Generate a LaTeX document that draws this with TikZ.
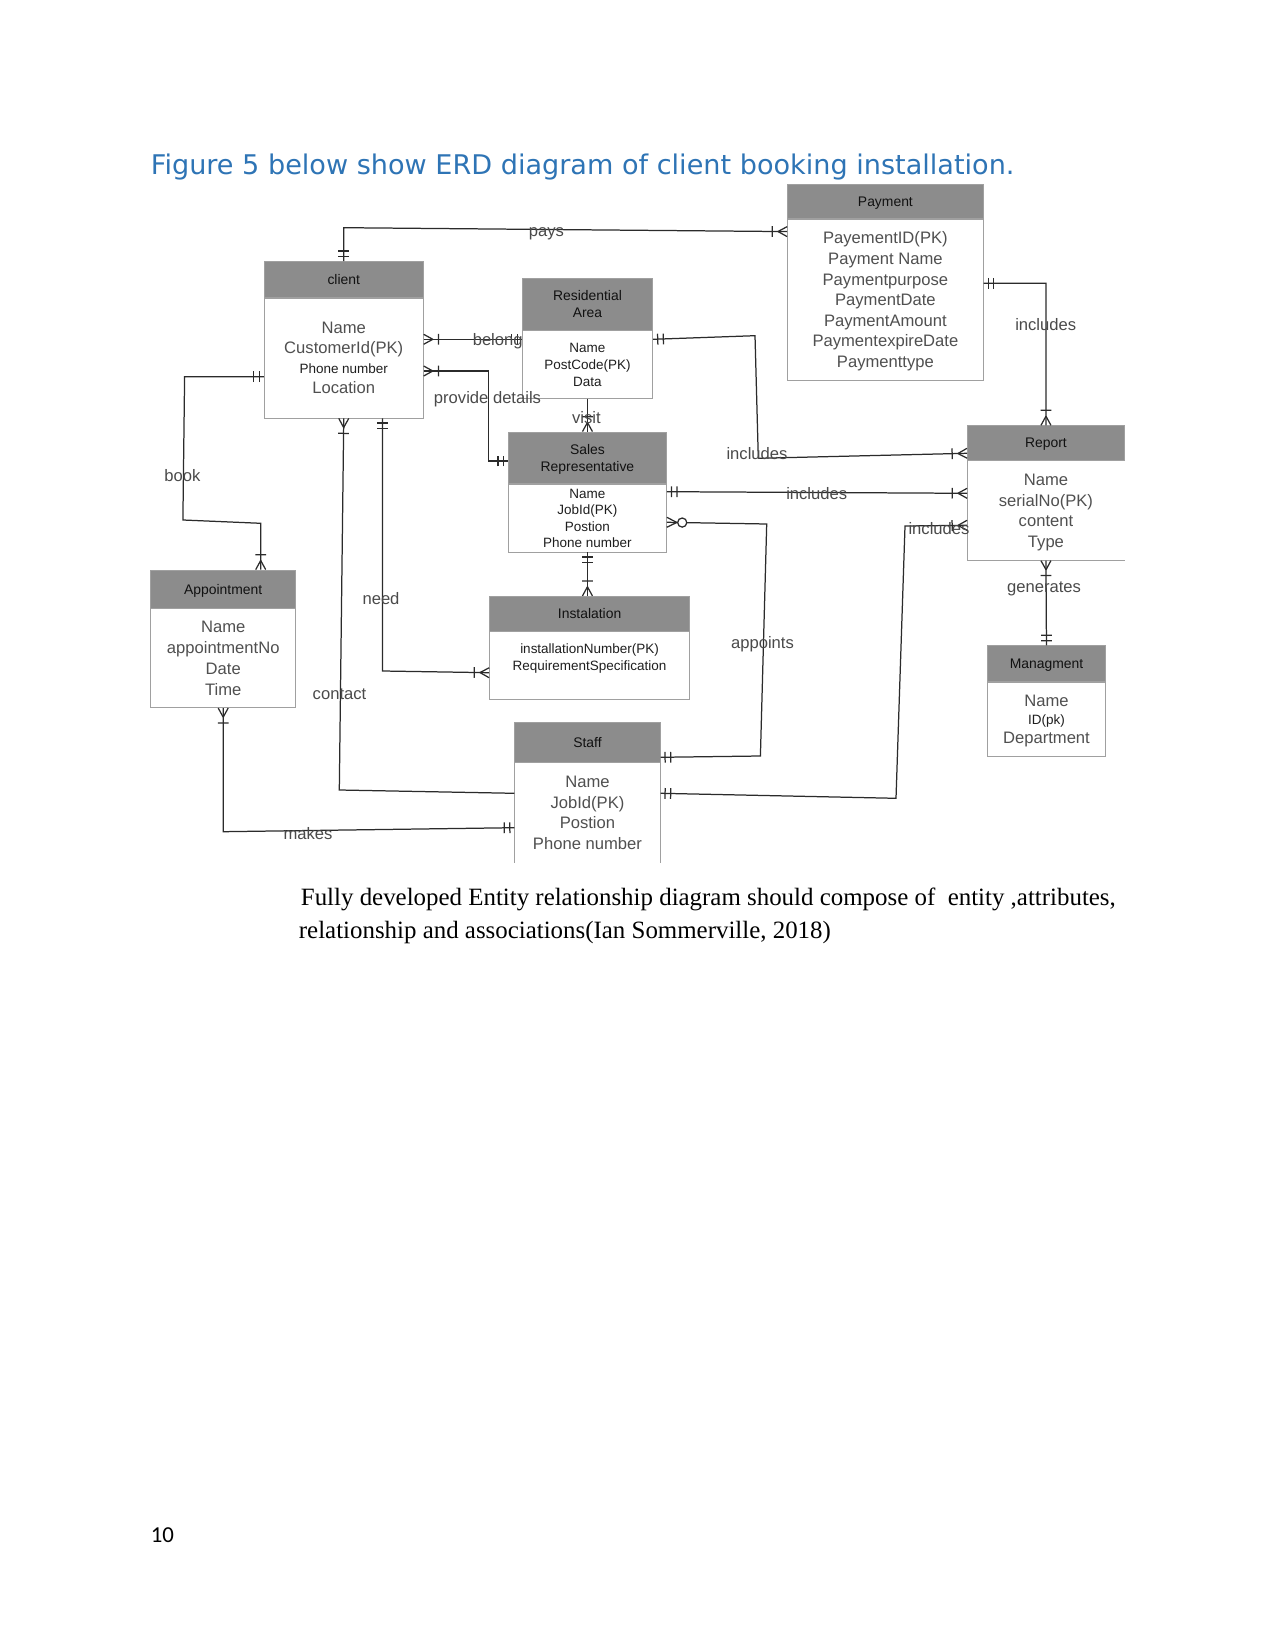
\documentclass[tikz,border=0pt]{standalone}
\usepackage{fontspec}
\setmainfont{Liberation Serif}
\newfontfamily\diagfont{Liberation Sans}
\newfontfamily\headfont{DejaVu Sans}
\newfontfamily\pagefont{Carlito}
\usetikzlibrary{positioning}

\definecolor{titleblue}{HTML}{2E74B5}
\definecolor{headgray}{HTML}{8C8C8C}
\definecolor{boxline}{HTML}{A0A0A0}
\definecolor{headtext}{HTML}{111111}
\definecolor{attgray}{HTML}{505050}
\definecolor{smallgray}{HTML}{1F1F1F}
\definecolor{linecol}{HTML}{2B2B2B}
\definecolor{lblgray}{HTML}{4A4A4A}

\newcommand\smalltxt[1]{{\fontsize{6.5}{8}\selectfont\color{smallgray}#1}}

% crow's foot ends
\pgfdeclarearrow{
  name = ErOne,
  setup code = {
    \pgfarrowssettipend{0pt}
    \pgfarrowssetlineend{0pt}
    \pgfarrowssetbackend{-5.5pt}
  },
  drawing code = {
    \pgfpathmoveto{\pgfqpoint{-2.2pt}{-2.6pt}}
    \pgfpathlineto{\pgfqpoint{-2.2pt}{2.6pt}}
    \pgfpathmoveto{\pgfqpoint{-4.9pt}{-2.6pt}}
    \pgfpathlineto{\pgfqpoint{-4.9pt}{2.6pt}}
    \pgfusepathqstroke
  }
}
\pgfdeclarearrow{
  name = ErMany,
  setup code = {
    \pgfarrowssettipend{0pt}
    \pgfarrowssetlineend{0pt}
    \pgfarrowssetbackend{-8pt}
  },
  drawing code = {
    \pgfpathmoveto{\pgfqpoint{-4.4pt}{0pt}}
    \pgfpathlineto{\pgfqpoint{0pt}{2.4pt}}
    \pgfpathmoveto{\pgfqpoint{-4.4pt}{0pt}}
    \pgfpathlineto{\pgfqpoint{0pt}{-2.4pt}}
    \pgfpathmoveto{\pgfqpoint{-7.2pt}{-2.6pt}}
    \pgfpathlineto{\pgfqpoint{-7.2pt}{2.6pt}}
    \pgfusepathqstroke
  }
}
\pgfdeclarearrow{
  name = ErZero,
  setup code = {
    \pgfarrowssettipend{0pt}
    \pgfarrowssetlineend{0pt}
    \pgfarrowssetbackend{-10pt}
  },
  drawing code = {
    \pgfpathmoveto{\pgfqpoint{-4.8pt}{0pt}}
    \pgfpathlineto{\pgfqpoint{0pt}{2.4pt}}
    \pgfpathmoveto{\pgfqpoint{-4.8pt}{0pt}}
    \pgfpathlineto{\pgfqpoint{0pt}{-2.4pt}}
    \pgfusepathqstroke
    \pgfpathcircle{\pgfqpoint{-7.4pt}{0pt}}{2.2pt}
    \pgfsetfillcolor{white}
    \pgfusepathqfillstroke
  }
}

\begin{document}
\begin{tikzpicture}[x=0.4818pt, y=-0.4818pt,
  ehead/.style={draw=boxline, fill=headgray, anchor=north, align=center, inner sep=0pt, text depth=0pt, text=headtext, font=\diagfont\fontsize{6.7}{8.1}\selectfont},
  ebody/.style={draw=boxline, fill=white, align=center, inner sep=0pt, text depth=0pt, text=attgray, font=\diagfont\fontsize{8}{9.9}\selectfont},
  esmall/.style={ebody, text=smallgray, font=\diagfont\fontsize{6.5}{8.1}\selectfont},
  eline/.style={draw=boxline, line width=0.4pt},
  rel/.style={draw=linecol, line width=0.6pt},
  lbl/.style={inner sep=0pt, text=lblgray, font=\diagfont\fontsize{8}{9}\selectfont}]
\useasboundingbox (0,0) rectangle (1275,1651);

\node[anchor=base west, inner sep=0pt, text=titleblue, font=\headfont\fontsize{13.05}{15}\selectfont] (title) at (150.5,174.5) {Figure 5 below show ERD diagram of client booking installation.};

% entities
\node[ehead, minimum width=94.3pt, minimum height=16.2pt] (payment) at (885.4,184.2) {Payment};
\node[ebody, minimum width=94.3pt, minimum height=77.6pt, below=0pt of payment] (payment-a) {PayementID(PK)\\Payment Name\\Paymentpurpose\\PaymentDate\\PaymentAmount\\PaymentexpireDate\\Paymenttype};

\node[ehead, minimum width=76.6pt, minimum height=17.2pt] (client) at (343.75,261.1) {client};
\node[ebody, minimum width=76.6pt, minimum height=57.8pt, below=0pt of client, font=\diagfont\fontsize{8}{9.6}\selectfont] (client-a) {Name\\CustomerId(PK)\\\smalltxt{Phone number}\\Location};

\node[ehead, minimum width=62.9pt, minimum height=24.9pt] (resid) at (587.45,277.9) {Residential\\Area};
\node[esmall, minimum width=62.9pt, minimum height=32.5pt, below=0pt of resid] (resid-a) {Name\\PostCode(PK)\\Data};

\node[ehead, minimum width=76.1pt, minimum height=24.9pt] (sales) at (587.45,431.6) {Sales\\Representative};
\node[esmall, minimum width=76.1pt, minimum height=32.5pt, below=0pt of sales, font=\diagfont\fontsize{6.5}{7.9}\selectfont] (sales-a) {Name\\JobId(PK)\\Postion\\Phone number};

\node[ehead, minimum width=75.6pt, minimum height=16.8pt] (report) at (1045.95,425.3) {Report};
\node[ebody, draw=none, minimum width=75.6pt, minimum height=47.6pt, below=0pt of report, font=\diagfont\fontsize{8}{10}\selectfont] (report-a) {Name\\serialNo(PK)\\content\\Type};
\draw[eline] (report-a.north west) -- (report-a.south west) -- (report-a.south east);

\node[ehead, minimum width=70pt, minimum height=18.3pt] (appoint) at (223.2,569.6) {Appointment};
\node[ebody, minimum width=70pt, minimum height=47.6pt, below=0pt of appoint, font=\diagfont\fontsize{8}{10}\selectfont] (appoint-a) {Name\\appointmentNo\\Date\\Time};

\node[ehead, minimum width=96.4pt, minimum height=16.7pt] (install) at (589.6,595.9) {Instalation};
\node[esmall, minimum width=96.4pt, minimum height=32.5pt, below=0pt of install] (install-a) {installationNumber(PK)\\RequirementSpecification\\~};

\node[ehead, minimum width=56.8pt, minimum height=17.2pt] (manage) at (1046.45,645.4) {Managment};
\node[ebody, minimum width=56.8pt, minimum height=35.5pt, below=0pt of manage, font=\diagfont\fontsize{8}{9.1}\selectfont] (manage-a) {Name\\\smalltxt{ID(pk)}\\Department};

\node[ehead, minimum width=70pt, minimum height=19.3pt, text depth=-1pt] (staff) at (587.45,722.2) {Staff};
\node[ebody, draw=none, minimum width=70pt, minimum height=47.7pt, below=0pt of staff] (staff-a) {Name\\JobId(PK)\\Postion\\Phone number};
\draw[eline] (staff-a.north west) -- (staff-a.south west) (staff-a.north east) -- (staff-a.south east);

% relationships
\draw[rel, {ErOne}-{ErMany}] (client.north) -- (343.75,227.7) -- (payment-a.west |- 0,231.6);
\draw[rel, {ErMany}-{ErOne}] (client-a.east |- 0,339.3) -- (resid-a.west |- 0,339.3);
\draw[rel, {ErMany}-{ErOne}] (client-a.east |- 0,371) -- (488.2,371) -- (488.2,461) -- (sales.west |- 0,461);
\draw[rel, -{ErMany}] (resid-a.south) -- (sales.north);
\draw[rel, {ErOne}-{ErMany}] (client-a.west |- 0,376.7) -- (184.6,376.7) -- (182.9,520) -- (260.7,523.3) -- (appoint.north -| 260.7,0);
\draw[rel, {ErMany}-] (client-a.south) -- (339.3,790) -- (staff-a.west |- 0,793.3);
\draw[rel, {ErOne}-{ErMany}] (client-a.south -| 382.5,0) -- (382.5,671) -- (install-a.west |- 0,672.7);
\draw[rel, {ErOne}-{ErMany}] (sales-a.south) -- (sales-a.south |- install.north);
\draw[rel, {ErOne}-{ErMany}] (resid-a.east |- 0,339.3) -- (755,335.7) -- (758.3,458.3) -- (report.west |- 0,453.3);
\draw[rel, {ErOne}-{ErMany}] (sales-a.east |- 0,491.7) -- (report-a.west |- 0,493.3);
\draw[rel, {ErZero}-{ErOne}] (sales-a.east |- 0,522.3) -- (766.7,524) -- (760.4,756) -- (staff.east |- 0,757.3);
\draw[rel, {ErOne}-{ErMany}] (staff-a.east |- 0,793.3) -- (896,798.3) -- (905,526) -- (report-a.west |- 0,525.3);
\draw[rel, {ErOne}-{ErMany}] (payment-a.east |- 0,283.3) -- (1046,283.3) -- (report.north);
\draw[rel, {ErMany}-{ErOne}] (report-a.south) -- (manage.north);
\draw[rel, {ErMany}-{ErOne}] (appoint-a.south) -- (223.2,831.7) -- (staff-a.west |- 0,827.7);

% relationship names
\node[lbl] (l-pays) at (546.4,233.6) {pays};
\node[lbl] (l-belong) at (497.7,341.5) {belong};
\node[lbl] (l-provide) at (487.5,399.5) {provide details};
\node[lbl] (l-visit) at (586.4,417.5) {visit};
\node[lbl] (l-book) at (182.5,475.5) {book};
\node[lbl] (l-contact) at (339.5,694.5) {contact};
\node[lbl] (l-need) at (381,599) {need};
\node[lbl] (l-inc1) at (757,453.5) {includes};
\node[lbl] (l-inc2) at (816.7,493.8) {includes};
\node[lbl] (l-appoints) at (762.5,644.3) {appoints};
\node[lbl] (l-inc3) at (939,528.5) {includes};
\node[lbl] (l-inc4) at (1045.7,324.8) {includes};
\node[lbl] (l-gen) at (1044,589) {generates};
\node[lbl] (l-makes) at (308,833.5) {makes};

% text under the figure
\node[anchor=base west, inner sep=0pt, font=\fontsize{12}{14.9}\selectfont] (para1) at (300.5,905.7) {Fully developed Entity relationship diagram should compose of~ entity ,attributes,};
\node[anchor=base west, inner sep=0pt, font=\fontsize{12}{14.9}\selectfont] (para2) at (298.5,938.7) {relationship and associations(Ian Sommerville, 2018)};

\node[anchor=base west, inner sep=0pt, font=\pagefont\fontsize{11}{13}\selectfont] (pageno) at (150.5,1542.5) {10};
\end{tikzpicture}
\end{document}
